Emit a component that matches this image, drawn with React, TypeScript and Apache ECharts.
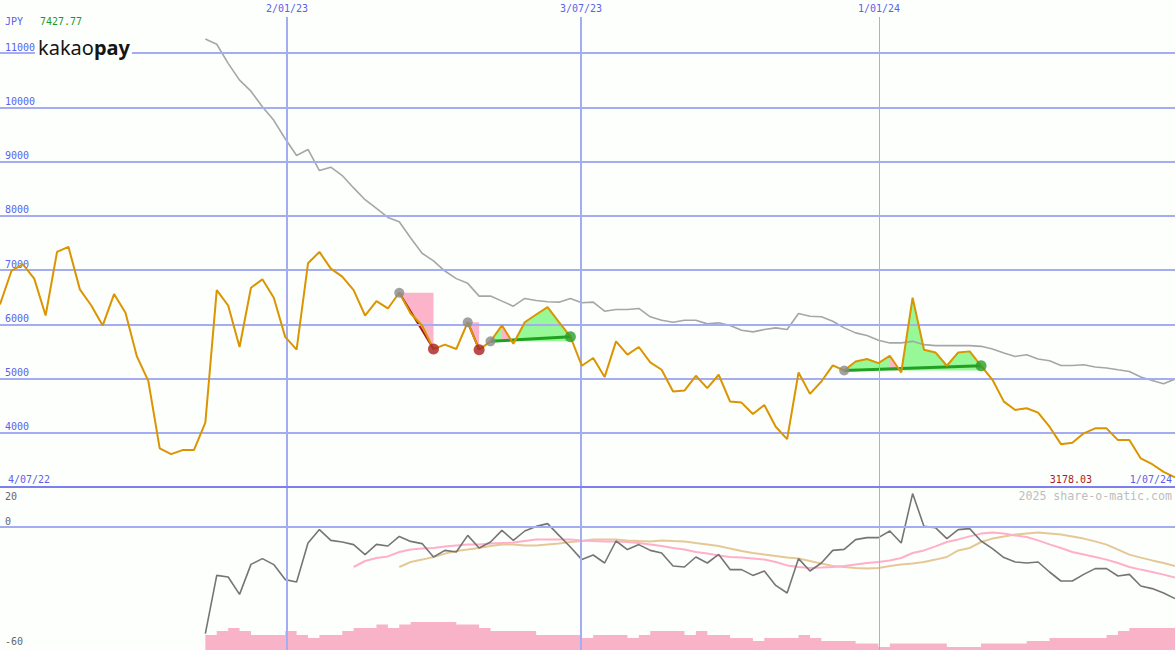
import React, { useEffect, useRef } from 'react';
import * as echarts from 'echarts';

// ---- data (weekly points, index 0 = 4/07/22, index 103 = 1/07/24) ----
const PRICE = [
  6365, 6982, 7106, 6841, 6161, 7333, 7427.77, 6643, 6346, 5976,
  6556, 6211, 5407, 4957, 3711, 3605, 3680, 3680, 4185, 6630,
  6346, 5581, 6674, 6828, 6489, 5767, 5531, 7124, 7333, 7026,
  6878, 6630, 6161, 6426, 6291, 6581, 6198, 5976, 5544, 5624,
  5544, 6037, 5531, 5685, 5981, 5640, 6037, 6180, 6315, 6040,
  5770, 5235, 5378, 5026, 5685, 5439, 5581, 5296, 5161, 4759,
  4778, 5050, 4822, 5069, 4574, 4556, 4346, 4513, 4111, 3883,
  5111, 4717, 4944, 5241, 5148, 5315, 5359, 5283, 5420, 5111,
  6489, 5531, 5481, 5235, 5481, 5500, 5235, 4976, 4574, 4420,
  4452, 4370, 4111, 3790, 3815, 3989, 4081, 4081, 3865, 3865,
  3526, 3420, 3278, 3178.03,
];

const LONG_MA_START = 18;
const LONG_MA = [
  11259, 11161, 10809, 10500, 10296, 10008, 9759, 9420, 9111, 9222,
  8833, 8896, 8741, 8513, 8296, 8137, 7970, 7889, 7590, 7309,
  7167, 6981, 6841, 6754, 6519, 6519, 6426, 6333, 6476, 6439,
  6415, 6407, 6476, 6396, 6407, 6241, 6272, 6272, 6291, 6137,
  6074, 6037, 6074, 6074, 6007, 6026, 5976, 5889, 5859, 5902,
  5933, 5902, 6198, 6148, 6137, 6056, 5933, 5841, 5791, 5704,
  5656, 5656, 5685, 5624, 5606, 5606, 5606, 5606, 5593, 5544,
  5470, 5407, 5439, 5359, 5328, 5241, 5241, 5254, 5211, 5193,
  5161, 5130, 5026, 4963, 4902, 4989,
];

const MOMENTUM_START = 18;
const MOMENTUM = [
  -53.3, -24.2, -25, -33.7, -18.7, -15.8, -18.8, -26.3, -27.5, -8,
  -1.3, -6.7, -7.5, -8.8, -13.8, -8.7, -9.5, -4.7, -7.2, -8.3,
  -15, -11.7, -12.5, -4.2, -10.5, -7.5, -1.7, -6.7, -2, 0.3,
  1.7, -4.2, -10, -16.3, -14, -18, -7, -11.3, -8.8, -11.7,
  -13, -19.5, -20, -15, -18, -13.7, -21.3, -21.3, -24.2, -22,
  -29.2, -33, -15.8, -22, -18, -11.7, -11.2, -6.3, -5.3, -5.3,
  -2, -8, 16.7, 0.3, -0.3, -5.8, -1.3, -0.8, -7, -10.8,
  -15.3, -17.5, -18, -17.5, -22.5, -27, -27, -23.7, -20.8, -20.8,
  -24.5, -23.7, -29.5, -30.8, -33, -35.8,
];

const FAST_MA_START = 31;
const FAST_MA = [
  -20, -17, -15.5, -14.7, -12.5, -11.3, -10.8, -10.5, -9.7, -9.2,
  -8.8, -8.8, -8.3, -8, -7.8, -7, -6.3, -6.2, -6.2, -6.3,
  -6.7, -7, -7.2, -7.2, -7.5, -8, -8.7, -9.5, -10.5, -11.3,
  -12.5, -13.3, -14.2, -15, -15.3, -15.8, -16.3, -17.5, -19.2, -20,
  -20.5, -20.3, -20, -19.5, -18.7, -18, -17.5, -16.7, -15.5, -13,
  -11.7, -9.7, -7.5, -6.2, -4.7, -3.3, -2.8, -3.3, -4.2, -5,
  -6.7, -8.7, -10.5, -12.5, -13.7, -15, -16.3, -18, -20, -21.3,
  -22.5, -23.8, -25.3,
];

const SLOW_MA_START = 35;
const SLOW_MA = [
  -20, -17.5, -16.3, -15, -13.3, -12, -11.3, -10.5, -9.5, -8.8,
  -8.7, -9.2, -9.2, -8.7, -8.3, -7.5, -7, -6.3, -6.2, -6.2,
  -6.7, -7, -7.2, -6.7, -7, -7.2, -8, -8.7, -9.5, -10.8,
  -12, -13, -13.8, -14.5, -15.3, -15.8, -17, -18.3, -19.5, -20,
  -20.5, -20.8, -20.5, -19.5, -18.8, -18.3, -17.5, -16.3, -15, -11.7,
  -10.5, -7.5, -5.8, -4.7, -3.8, -3.3, -2.8, -3.3, -3.8, -4.7,
  -5.8, -7.2, -8.8, -11.3, -13.8, -15.3, -16.7, -18, -19.5,
];

const VOLUME_START = 18;
const VOLUME = [
  -54, -52, -50.5, -52, -54, -54, -54, -52, -54, -55.5,
  -54, -54, -52, -50.5, -50.5, -48.8, -50.5, -48.8, -47.5, -47.5,
  -47.5, -47.5, -48.8, -48.8, -50.5, -52, -52, -52, -52, -54,
  -54, -54, -54, -55.5, -54, -54, -54, -55.5, -54, -52,
  -52, -52, -54, -52, -54, -54, -55.5, -55.5, -57, -55.5,
  -55.5, -55.5, -54, -55.5, -57, -57, -57, -58.3, -58.3, -60,
  -58.3, -58.3, -58.3, -58.3, -58.3, -60, -60, -60, -58.3, -58.3,
  -58.3, -58.3, -57, -57, -55.5, -55.5, -55.5, -55.5, -55.5, -54,
  -52, -50.5, -50.5, -50.5, -50.5, -50.5,
];

const PRICE_LEVELS = [4000, 5000, 6000, 7000, 8000, 9000, 10000, 11000];
const DATE_LABELS = ['2/01/23', '3/07/23', '1/01/24'];
const DATE_POS = [25.16, 50.93, 77.05];
const FIRST_DATE = '4/07/22';
const LAST_DATE = '1/07/24';
const CURRENCY = 'JPY';
const TRADE_FROM = [35, 41, 43, 74];
const TRADE_TO = [38, 42, 50, 86];

// ---- styles ----
const BG = '#fdfffd';
const GRID = '#a4acf2';
const SEP = '#7c80ee';
const BLUE_TXT = '#5a62ea';
const MONO = '"DejaVu Sans Mono", monospace';
const PINK = '#fbb4c9';
const GREEN_FILL = '#96f896';

const Y_MIN = 3000;
const Y_MAX = 11977;
const Y_LABEL_TOP = 11664;

const pairs = (start: number, arr: number[]) => arr.map((v, i) => [start + i, v]);

function buildTrades() {
  const fills: { pts: number[][]; color: string }[] = [];
  const notches: { pts: number[][]; color: string }[] = [];
  const segs: { a: number[]; b: number[]; color: string; width: number }[] = [];
  const dots: any[] = [];
  TRADE_FROM.forEach((f, k) => {
    const t = TRADE_TO[k];
    const pf = PRICE[f];
    const pt = PRICE[t];
    dots.push({ value: [f, pf], symbolSize: 10, itemStyle: { color: '#8a8a8a' } });
    if (pt < pf) {
      fills.push({ pts: [[f, pf], [t, pf], [t, pt]], color: PINK });
      segs.push({ a: [f, pf], b: [t, pt], color: '#a31a1a', width: 2 });
      dots.push({ value: [t, pt], symbolSize: 11, itemStyle: { color: '#a82020' } });
    } else {
      const pts: number[][] = [[f, pf]];
      for (let i = f; i <= t; i++) {
        const v = PRICE[i];
        if (i > f) {
          const u = PRICE[i - 1];
          if ((u - pf) * (v - pf) < 0) {
            const xc = i - 1 + (u - pf) / (u - v);
            pts.push([xc, pf]);
            if (u > pf) notches.push({ pts: [[i - 1, u], [xc, pf], [i - 1, pf]], color: PINK });
          }
        }
        pts.push([i, Math.max(v, pf)]);
      }
      pts.push([t, pf]);
      fills.push({ pts, color: GREEN_FILL });
      segs.push({ a: [f, pf], b: [t, pt], color: '#22a022', width: 3 });
      dots.push({ value: [t, pt], symbolSize: 11, itemStyle: { color: '#2a9d2a' } });
    }
  });
  return { shapes: fills.concat(notches), segs, dots };
}

export default function App() {
  const ref = useRef<HTMLDivElement>(null);
  useEffect(() => {
    if (!ref.current) return;
    const chart = echarts.init(ref.current, null, { renderer: 'svg' });
    const { shapes, segs, dots } = buildTrades();
    const priceData = pairs(0, PRICE);
    const lastIdx = PRICE.length - 1;
    const maxPrice = Math.max(...PRICE);

    const hLines = PRICE_LEVELS.map((v) => ({
      yAxis: v,
      label: {
        show: true,
        position: 'insideStartTop',
        formatter: () => String(v),
        color: BLUE_TXT,
        fontFamily: MONO,
        fontSize: 10,
        distance: [5, 1],
      },
      lineStyle: { color: GRID, width: 2, type: 'solid' },
    }));
    const vLinesMain = DATE_POS.map((x, i) => [
      {
        name: DATE_LABELS[i],
        coord: [x, Y_MIN],
        label: {
          show: true,
          position: 'end',
          formatter: (p: any) => p.name,
          color: BLUE_TXT,
          fontFamily: MONO,
          fontSize: 10,
          distance: 3,
        },
        lineStyle: { color: GRID, width: i < 2 ? 2 : 1, type: 'solid' },
      },
      { coord: [x, Y_LABEL_TOP] },
    ]);
    const vLinesLower = DATE_POS.map((x, i) => ({
      xAxis: x,
      label: { show: false },
      lineStyle: { color: GRID, width: i < 2 ? 2 : 1, type: 'solid' },
    }));
    const lowLabel = (pos: string, dy: number) => ({
      show: true,
      position: pos,
      formatter: (p: any) => String(p.value),
      color: '#666666',
      fontFamily: MONO,
      fontSize: 10,
      distance: [5, dy],
    });

    chart.setOption({
      animation: false,
      backgroundColor: BG,
      textStyle: { fontFamily: MONO },
      grid: [
        { left: 0, top: 0, width: 1175, height: 487 },
        { left: 0, top: 487, width: 1175, height: 163 },
      ],
      xAxis: [
        { type: 'value', gridIndex: 0, min: 0, max: lastIdx, show: false },
        { type: 'value', gridIndex: 1, min: 0, max: lastIdx, show: false },
      ],
      yAxis: [
        { type: 'value', gridIndex: 0, min: Y_MIN, max: Y_MAX, show: false },
        { type: 'value', gridIndex: 1, min: -61.5, max: 20, show: false },
      ],
      graphic: [
        {
          type: 'text', x: 5, y: 21, z: 100,
          style: { text: CURRENCY, fill: BLUE_TXT, fontFamily: MONO, fontSize: 10, verticalAlign: 'middle' },
        },
        {
          type: 'text', x: 40, y: 21, z: 100,
          style: { text: maxPrice.toFixed(2), fill: '#229922', fontFamily: MONO, fontSize: 10, verticalAlign: 'middle' },
        },
        {
          type: 'text', left: 35, top: 37, z: 100,
          style: {
            text: '{a|kakao}{b|pay}',
            backgroundColor: BG,
            padding: [0, 2, 0, 3],
            rich: {
              a: { fontFamily: '"Noto Sans", sans-serif', fontSize: 20, fontWeight: 'normal', fill: '#151515' },
              b: { fontFamily: '"Noto Sans", sans-serif', fontSize: 20, fontWeight: 'bold', fill: '#151515' },
            },
          },
        },
        {
          type: 'text', x: 8, y: 479, z: 100,
          style: { text: FIRST_DATE, fill: BLUE_TXT, fontFamily: MONO, fontSize: 10, verticalAlign: 'middle' },
        },
        {
          type: 'text', x: 1092, y: 479, z: 100,
          style: { text: PRICE[lastIdx].toFixed(2), fill: '#a82222', fontFamily: MONO, fontSize: 10, align: 'right', verticalAlign: 'middle' },
        },
        {
          type: 'text', x: 1172, y: 479, z: 100,
          style: { text: LAST_DATE, fill: BLUE_TXT, fontFamily: MONO, fontSize: 10, align: 'right', verticalAlign: 'middle' },
        },
        {
          type: 'text', x: 1172, y: 496, z: 100,
          style: { text: '2025 share-o-matic.com', fill: '#bdbdbd', fontFamily: MONO, fontSize: 11.6, align: 'right', verticalAlign: 'middle' },
        },
      ],
      series: [
        {
          name: 'grid-main', type: 'line', xAxisIndex: 0, yAxisIndex: 0, z: 1, silent: true,
          data: priceData, symbol: 'none', lineStyle: { opacity: 0, width: 0 },
          markLine: { silent: true, symbol: 'none', animation: false, data: [...hLines, ...vLinesMain] },
        },
        {
          name: 'trade-fills', type: 'custom', xAxisIndex: 0, yAxisIndex: 0, z: 2, silent: true,
          data: shapes.map((s) => s.pts[0]),
          renderItem: (params: any, api: any) => {
            const s = shapes[params.dataIndex];
            return {
              type: 'polygon',
              shape: { points: s.pts.map((p) => api.coord(p)) },
              style: { fill: s.color },
            };
          },
        },
        {
          name: 'long-ma', type: 'line', xAxisIndex: 0, yAxisIndex: 0, z: 3, silent: true,
          data: pairs(LONG_MA_START, LONG_MA), symbol: 'none',
          lineStyle: { color: '#a6a6a6', width: 1.6 },
        },
        {
          name: 'trade-lines', type: 'custom', xAxisIndex: 0, yAxisIndex: 0, z: 4, silent: true,
          data: segs.map((s) => s.a),
          renderItem: (params: any, api: any) => {
            const s = segs[params.dataIndex];
            const a = api.coord(s.a);
            const b = api.coord(s.b);
            return {
              type: 'line',
              shape: { x1: a[0], y1: a[1], x2: b[0], y2: b[1] },
              style: { stroke: s.color, lineWidth: s.width },
            };
          },
        },
        {
          name: 'price', type: 'line', xAxisIndex: 0, yAxisIndex: 0, z: 5, silent: true,
          data: priceData, symbol: 'none',
          lineStyle: { color: '#da9500', width: 2 },
        },
        {
          name: 'trade-dots', type: 'scatter', xAxisIndex: 0, yAxisIndex: 0, z: 6, silent: true,
          data: dots,
        },
        {
          name: 'grid-lower', type: 'line', xAxisIndex: 1, yAxisIndex: 1, z: 1, silent: true,
          data: pairs(MOMENTUM_START, MOMENTUM), symbol: 'none', lineStyle: { opacity: 0, width: 0 },
          markLine: {
            silent: true, symbol: 'none', animation: false,
            data: [
              ...vLinesLower,
              { yAxis: 0, label: lowLabel('insideStartTop', 1), lineStyle: { color: GRID, width: 2, type: 'solid' } },
              { yAxis: -60, label: lowLabel('insideStartTop', 1), lineStyle: { color: 'rgba(0,0,0,0)', width: 1, type: 'solid' } },
              { yAxis: 20, label: lowLabel('insideStartBottom', 4), lineStyle: { color: SEP, width: 2, type: 'solid' } },
            ],
          },
        },
        {
          name: 'volume', type: 'line', xAxisIndex: 1, yAxisIndex: 1, z: 2, silent: true,
          data: pairs(VOLUME_START, VOLUME), symbol: 'none', step: 'end',
          lineStyle: { width: 0, opacity: 0 },
          areaStyle: { color: '#f9b3c8', opacity: 1, origin: 'start' },
        },
        {
          name: 'slow-ma', type: 'line', xAxisIndex: 1, yAxisIndex: 1, z: 3, silent: true,
          data: pairs(SLOW_MA_START, SLOW_MA), symbol: 'none',
          lineStyle: { color: '#e5c896', width: 2 },
        },
        {
          name: 'fast-ma', type: 'line', xAxisIndex: 1, yAxisIndex: 1, z: 3, silent: true,
          data: pairs(FAST_MA_START, FAST_MA), symbol: 'none',
          lineStyle: { color: '#ffb0c8', width: 2 },
        },
        {
          name: 'momentum', type: 'line', xAxisIndex: 1, yAxisIndex: 1, z: 4, silent: true,
          data: pairs(MOMENTUM_START, MOMENTUM), symbol: 'none',
          lineStyle: { color: '#757575', width: 1.6 },
        },
      ],
    });
    return () => chart.dispose();
  }, []);
  return (
    <div
      ref={ref}
      style={{ position: 'absolute', left: 0, top: 0, width: 1175, height: 650 }}
    />
  );
}
